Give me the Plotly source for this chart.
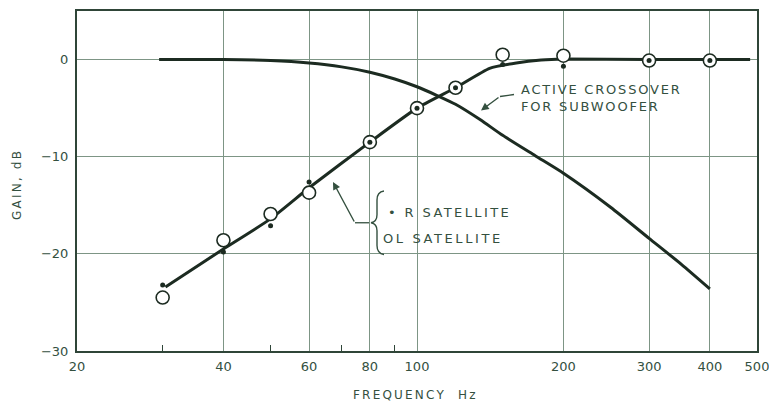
import plotly.graph_objects as go

# ---- data ----
sat_freq = [30, 40, 50, 60, 80, 100, 120, 150, 200, 300, 400]
l_sat_gain = [-24.5, -18.6, -15.9, -13.7, -8.5, -5.0, -2.9, 0.5, 0.4, -0.1, -0.1]
r_sat_gain = [-23.2, -19.8, -17.1, -12.6, -8.5, -5.0, -2.9, -0.5, -0.7, -0.1, -0.1]

sat_curve_freq = [30.4, 40, 50, 60, 80, 100, 120, 141, 160, 180, 200, 300, 400, 484]
sat_curve_gain = [-23.4, -19.5, -16.4, -13.2, -8.5, -5.0, -2.9, -0.9, -0.35, -0.05, 0.05, 0.0, 0.0, 0.0]

sub_freq = [29.5, 40, 50, 60, 70, 80, 90, 100, 110, 120, 135, 150, 175, 200, 250, 300, 350, 400]
sub_gain = [0.0, 0.0, -0.1, -0.35, -0.75, -1.3, -2.0, -2.8, -3.7, -4.6, -6.2, -7.8, -9.9, -11.7, -15.2, -18.4, -21.1, -23.6]

x_ticks = [20, 40, 60, 80, 100, 200, 300, 400, 500]
x_minor = [30, 50, 70, 90]
y_ticks = [0, -10, -20, -30]
y_ticktext = ["0", "\u221210", "\u221220", "\u221230"]

# ---- styling ----
INK = "#1c2b21"
TXT = "#34503f"
GRID = "#7d9585"
AXIS = "#2f4538"
FONT = "DejaVu Sans"

OFF = 8  # default page body margin
W, H = 777 - OFF, 404 - OFF
PL, PR, PT, PB = 77, 757, 9, 351  # plot area in page pixels
PW, PH = PR - PL, PB - PT


def px(x):
    return (x - PL) / PW


def py(y):
    return (PB - y) / PH


def sp(t, ls=1.8):
    return f'<span style="letter-spacing:{ls}px">{t}</span>'


fig = go.Figure()

fig.add_trace(go.Scatter(x=sub_freq, y=sub_gain, mode="lines",
                         line=dict(color=INK, width=3, shape="spline", smoothing=0.6),
                         hoverinfo="skip", showlegend=False))
fig.add_trace(go.Scatter(x=sat_curve_freq, y=sat_curve_gain, mode="lines",
                         line=dict(color=INK, width=3, shape="spline", smoothing=0.5),
                         hoverinfo="skip", showlegend=False))
fig.add_trace(go.Scatter(x=sat_freq, y=l_sat_gain, mode="markers",
                         marker=dict(symbol="circle", size=13, color="white",
                                     line=dict(color=INK, width=1.6)),
                         name="L SATELLITE", showlegend=False))
fig.add_trace(go.Scatter(x=sat_freq, y=r_sat_gain, mode="markers",
                         marker=dict(symbol="circle", size=5, color=INK),
                         name="R SATELLITE", showlegend=False))

shapes = []
shapes.append(dict(type="line", xref="paper", yref="paper",
                   x0=px(514), y0=py(93), x1=px(500), y1=py(95),
                   line=dict(color=TXT, width=1.3)))
shapes.append(dict(type="line", xref="paper", yref="paper",
                   x0=px(355), y0=py(222), x1=px(369), y1=py(222),
                   line=dict(color=TXT, width=1.3)))
bpath = (f"M {px(384)},{py(190)} Q {px(377)},{py(191)} {px(377)},{py(199)} "
         f"L {px(377)},{py(214)} Q {px(377)},{py(221)} {px(371)},{py(222)} "
         f"Q {px(377)},{py(223)} {px(377)},{py(230)} "
         f"L {px(377)},{py(245)} Q {px(377)},{py(253)} {px(384)},{py(254)}")
shapes.append(dict(type="path", xref="paper", yref="paper", path=bpath,
                   line=dict(color=TXT, width=1.4)))

annotations = [
    dict(xref="paper", yref="paper", x=px(481), y=py(109), ax=19, ay=-14,
         showarrow=True, arrowhead=2, arrowsize=1.1, arrowwidth=1.4, arrowcolor=TXT, text=""),
    dict(xref="paper", yref="paper", x=px(333), y=py(181), ax=22, ay=41,
         showarrow=True, arrowhead=2, arrowsize=1.1, arrowwidth=1.4, arrowcolor=TXT, text=""),
    dict(xref="paper", yref="paper", x=px(519), y=py(97), xanchor="left", yanchor="middle",
         text=sp("ACTIVE CROSSOVER") + "<br>" + sp("FOR SUBWOOFER"),
         showarrow=False, align="left",
         font=dict(family=FONT, size=13, color=TXT)),
    dict(xref="paper", yref="paper", x=px(386), y=py(212), xanchor="left", yanchor="middle",
         text=sp("\u2022 R SATELLITE", 2.4), showarrow=False, align="left",
         font=dict(family=FONT, size=13, color=TXT)),
    dict(xref="paper", yref="paper", x=px(381), y=py(238), xanchor="left", yanchor="middle",
         text=sp("OL SATELLITE", 2.6), showarrow=False, align="left",
         font=dict(family=FONT, size=13, color=TXT)),
    dict(xref="paper", yref="paper", x=px(415), y=py(395), xanchor="center", yanchor="middle",
         text=sp("FREQUENCY  Hz", 2.2), showarrow=False,
         font=dict(family=FONT, size=12, color=TXT)),
    dict(xref="paper", yref="paper", x=px(17), y=py(183), xanchor="center", yanchor="middle",
         text=sp("GAIN, dB", 2.2), textangle=-90, showarrow=False,
         font=dict(family=FONT, size=12, color=TXT)),
]

fig.update_layout(
    width=W, height=H,
    margin=dict(l=PL - OFF, r=W - (PR - OFF), t=PT - OFF, b=H - (PB - OFF)),
    paper_bgcolor="white", plot_bgcolor="white",
    shapes=shapes, annotations=annotations,
    xaxis=dict(type="log", range=[1.30103, 2.69897],
               tickmode="array", tickvals=x_ticks, ticktext=[str(v) for v in x_ticks],
               showgrid=True, gridcolor=GRID, gridwidth=1,
               showline=True, linecolor=AXIS, linewidth=2, mirror=True,
               ticks="", ticklabelstandoff=2, zeroline=False,
               tickfont=dict(family=FONT, size=13, color=TXT),
               minor=dict(tickmode="array", tickvals=x_minor, ticks="inside",
                          ticklen=6, tickwidth=1.3, tickcolor=AXIS, showgrid=False)),
    yaxis=dict(range=[-30, 5], tickmode="array", tickvals=y_ticks, ticktext=y_ticktext,
               showgrid=True, gridcolor=GRID, gridwidth=1, zeroline=False,
               showline=True, linecolor=AXIS, linewidth=2, mirror=True,
               ticks="", ticklabelstandoff=4,
               tickfont=dict(family=FONT, size=13, color=TXT)),
)

fig.write_html("out.html")
